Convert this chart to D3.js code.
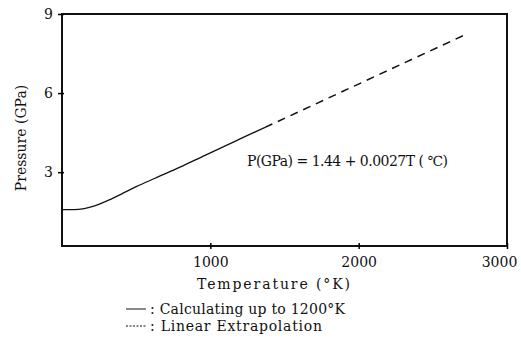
<!DOCTYPE html>
<html>
<head>
<meta charset="utf-8">
<script src="https://cdn.jsdelivr.net/npm/d3@7"></script>
<style>
  body { margin: 0; background: #fff; }
  text { font-family: "DejaVu Serif", "Liberation Serif", serif; fill: #111; }
</style>
</head>
<body>
<div id="chart"></div>
<script>
// Calculated curve (solid)
const calcTemp = [0, 80, 150, 220, 300, 400, 500, 627, 800, 964, 1200, 1369];
const calcPressure = [1.58, 1.58, 1.62, 1.72, 1.9, 2.17, 2.45, 2.77, 3.2, 3.64, 4.26, 4.7];
// Linear extrapolation (dashed)
const extraTemp = [1369, 2731];
const extraPressure = [4.7, 8.25];

const xTicks = [1000, 2000, 3000];
const yTicks = [3, 6, 9];

const width = 521, height = 338;
const margin = { top: 14, right: 14, bottom: 92, left: 62 };

const svg = d3.select('#chart').append('svg')
    .attr('width', width)
    .attr('height', height);

const x = d3.scaleLinear()
    .domain([0, 3000])
    .range([margin.left, width - margin.right]);

const y = d3.scaleLinear()
    .domain([0.2, 9])
    .range([height - margin.bottom, margin.top]);

// Frame
svg.append('rect')
    .attr('x', x(0))
    .attr('y', y(9))
    .attr('width', x(3000) - x(0))
    .attr('height', y(0.2) - y(9))
    .style('fill', 'none')
    .style('stroke', '#111')
    .style('stroke-width', 2);

// Axes
const xAxis = svg.append('g')
    .attr('transform', `translate(0, ${y(0.2)})`)
    .call(d3.axisBottom(x).tickValues(xTicks).tickSize(3).tickPadding(8).tickFormat(d3.format('d')));

xAxis.select('.domain').remove();
xAxis.selectAll('.tick line').attr('y1', -3).attr('stroke-width', 1.5);
xAxis.selectAll('.tick text')
    .style('font-size', '14px')
    .style('font-family', '"DejaVu Serif", serif')
    .attr('dx', d => d === 3000 ? -8 : 0);

const yAxis = svg.append('g')
    .attr('transform', `translate(${x(0)}, 0)`)
    .call(d3.axisLeft(y).tickValues(yTicks).tickSize(4).tickPadding(5));

yAxis.select('.domain').remove();
yAxis.selectAll('.tick line').attr('x1', 2).attr('stroke-width', 1.5);
yAxis.selectAll('.tick text')
    .style('font-size', '14px')
    .style('font-family', '"DejaVu Serif", serif');

// Lines
const line = d3.line()
    .x(d => x(d[0]))
    .y(d => y(d[1]))
    .curve(d3.curveMonotoneX);

svg.append('path')
    .datum(calcTemp.map((t, i) => [t, calcPressure[i]]))
    .attr('d', line)
    .style('fill', 'none')
    .style('stroke', '#111')
    .style('stroke-width', 1.3);

svg.append('path')
    .datum(extraTemp.map((t, i) => [t, extraPressure[i]]))
    .attr('d', line)
    .style('fill', 'none')
    .style('stroke', '#111')
    .style('stroke-width', 1.5)
    .style('stroke-dasharray', '8,6');

// Formula
svg.append('text')
    .attr('x', 247)
    .attr('y', 166)
    .attr('textLength', 201)
    .style('font-size', '14px')
    .text('P(GPa) = 1.44 + 0.0027T ( ℃)');

// Axis titles
svg.append('text')
    .attr('x', 197)
    .attr('y', 289)
    .attr('textLength', 153)
    .style('font-size', '14px')
    .text('Temperature (°K)');

svg.append('text')
    .attr('transform', 'translate(26, 138) rotate(-90)')
    .attr('text-anchor', 'middle')
    .style('font-size', '14px')
    .text('Pressure (GPa)');

// Legend
const legend = [
    { label: ': Calculating up to 1200°K', dash: null, y: 309, len: 195 },
    { label: ': Linear Extrapolation', dash: '2,1.5', y: 326, len: 172 }
];

legend.forEach(item => {
    svg.append('line')
        .attr('x1', 126)
        .attr('x2', 146)
        .attr('y1', item.y)
        .attr('y2', item.y)
        .style('stroke', '#111')
        .style('stroke-width', 1)
        .style('stroke-dasharray', item.dash);

    svg.append('text')
        .attr('x', 150)
        .attr('y', item.y + 5)
        .attr('textLength', item.len)
        .style('font-size', '14px')
        .text(item.label);
});
</script>
</body>
</html>
